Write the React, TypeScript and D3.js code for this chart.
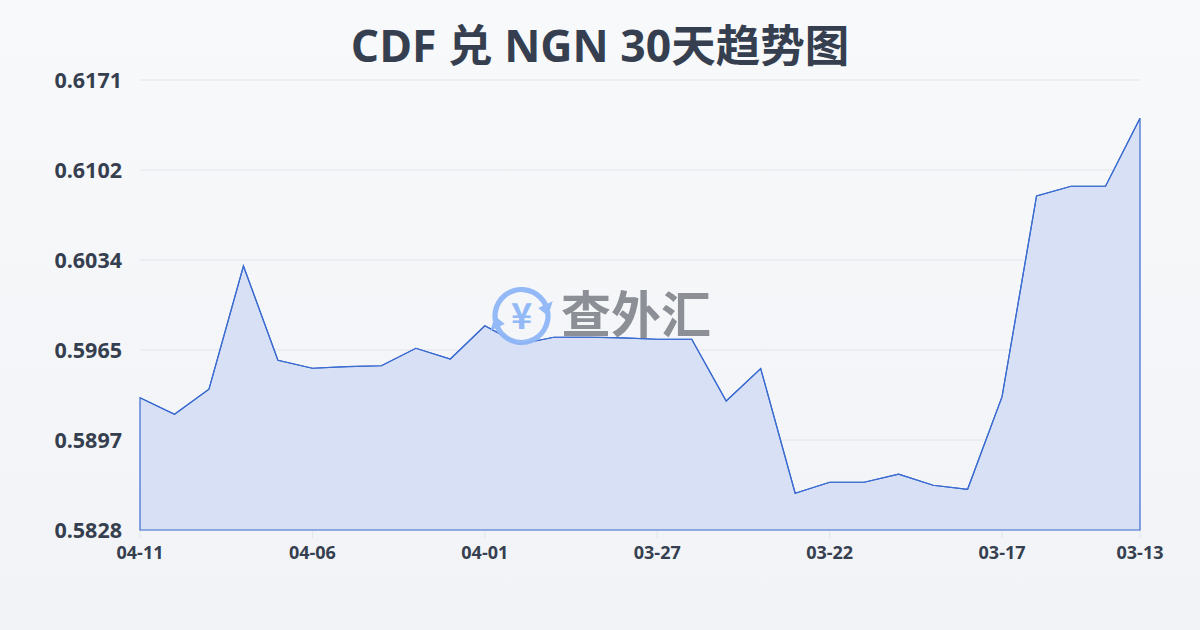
import React from "react";
import * as d3 from "d3";

const dates = [
  "04-11", "04-10", "04-09", "04-08", "04-07", "04-06", "04-05", "04-04", "04-03", "04-02",
  "04-01", "03-31", "03-30", "03-29", "03-28", "03-27", "03-26", "03-25", "03-24", "03-23",
  "03-22", "03-21", "03-20", "03-19", "03-18", "03-17", "03-16", "03-15", "03-14", "03-13",
];
const rates = [
  0.59288, 0.59162, 0.59353, 0.60292, 0.59574, 0.59513, 0.59525, 0.59532, 0.59665, 0.59583,
  0.59837, 0.59696, 0.59749, 0.59749, 0.59745, 0.59734, 0.59734, 0.59263, 0.5951, 0.5856,
  0.58644, 0.58644, 0.58705, 0.58621, 0.5859, 0.59296, 0.60826, 0.609, 0.609, 0.61418,
];
const yTickLabels = ["0.5828", "0.5897", "0.5965", "0.6034", "0.6102", "0.6171"];
const xTickLabels = ["04-11", "04-06", "04-01", "03-27", "03-22", "03-17", "03-13"];
const title = "CDF 兑 NGN 30天趋势图";
const watermark = "查外汇";

const W = 1200, H = 630;
const left = 140, right = 1140, top = 80, bottom = 530;
const font = "'Open Sans', 'Noto Sans CJK SC', sans-serif";
const cjk = "'Noto Sans CJK SC', sans-serif";

function pt(a: number, rr: number) {
  return [rr * Math.sin(a), -rr * Math.cos(a)];
}

export default function App() {
  const x = d3.scalePoint<number>().domain(d3.range(dates.length)).range([left, right]);
  const yMin = +yTickLabels[0], yMax = +yTickLabels[yTickLabels.length - 1];
  const y = d3.scaleLinear().domain([yMin, yMax]).range([bottom, top]);
  const line = d3.line<number>().x((_, i) => x(i)!).y((d) => y(d));
  const area = d3.area<number>().x((_, i) => x(i)!).y0(bottom).y1((d) => y(d));
  const yTicks = yTickLabels.map((t, i) => ({ label: t, py: bottom - (i * (bottom - top)) / (yTickLabels.length - 1) }));
  const xTicks = xTickLabels.map((t) => ({ label: t, px: x(dates.indexOf(t))! }));
  const cx = 521.5, cy = 316, r = 26.5;
  const s1 = -1.75, e1 = 1.15;
  const arcs = [0, Math.PI].map((off) => ({
    d: d3.arc()({ innerRadius: r - 2.6, outerRadius: r + 2.6, startAngle: s1 + off, endAngle: e1 + off } as any)!,
    head: [pt(e1 + off - 0.02, r - 8), pt(e1 + off - 0.02, r + 8), pt(e1 + off + 0.42, r)].map((p) => p.join(",")).join(" "),
  }));
  return (
    <svg width={W} height={H} style={{ display: "block", position: "absolute", left: 0, top: 0 }}>
      <defs>
        <linearGradient id="bg" x1="0" y1="0" x2="0" y2="1">
          <stop offset="0" stopColor="#f8f9fb" />
          <stop offset="1" stopColor="#f1f3f6" />
        </linearGradient>
      </defs>
      <rect x={0} y={0} width={W} height={H} fill="url(#bg)" />
      <text x={600} y={62} textAnchor="middle" fontFamily={font} fontWeight={700} fontSize={44.5} fill="#363f4f">{title}</text>
      {yTicks.map((t) => (
        <g key={t.label}>
          <line x1={left} x2={right} y1={t.py} y2={t.py} stroke="#e2e5ea" strokeWidth={1} />
          <text x={122} y={t.py} dy="0.35em" textAnchor="end" fontFamily={font} fontWeight={700} fontSize={21.5} fill="#363f4f">{t.label}</text>
        </g>
      ))}
      {xTicks.map((t) => (
        <g key={t.label}>
          <line x1={t.px} x2={t.px} y1={bottom} y2={bottom + 8} stroke="#e2e5ea" strokeWidth={1} />
          <text x={t.px} y={553} dy="0.35em" textAnchor="middle" fontFamily={font} fontWeight={700} fontSize={18} fill="#363f4f">{t.label}</text>
        </g>
      ))}
      <path d={area(rates)!} fill="#d7e0f5" stroke="#3a6bd0" strokeWidth={1.2} />
      <path d={line(rates)!} fill="none" stroke="#3a6bd0" strokeWidth={1.2} />
      <g opacity={0.95}>
        <g transform={`translate(${cx},${cy})`}>
          {arcs.map((a, i) => (
            <g key={i}>
              <path d={a.d} fill="#8fb6f7" />
              <polygon points={a.head} fill="#8fb6f7" />
            </g>
          ))}
          <text x={0} y={0} dy="0.36em" textAnchor="middle" fontFamily={cjk} fontWeight={700} fontSize={36} fill="#8fb6f7">¥</text>
        </g>
        <text x={561} y={315} dy="0.36em" fontFamily={cjk} fontWeight={700} fontSize={50} fill="#878a91">{watermark}</text>
      </g>
    </svg>
  );
}
